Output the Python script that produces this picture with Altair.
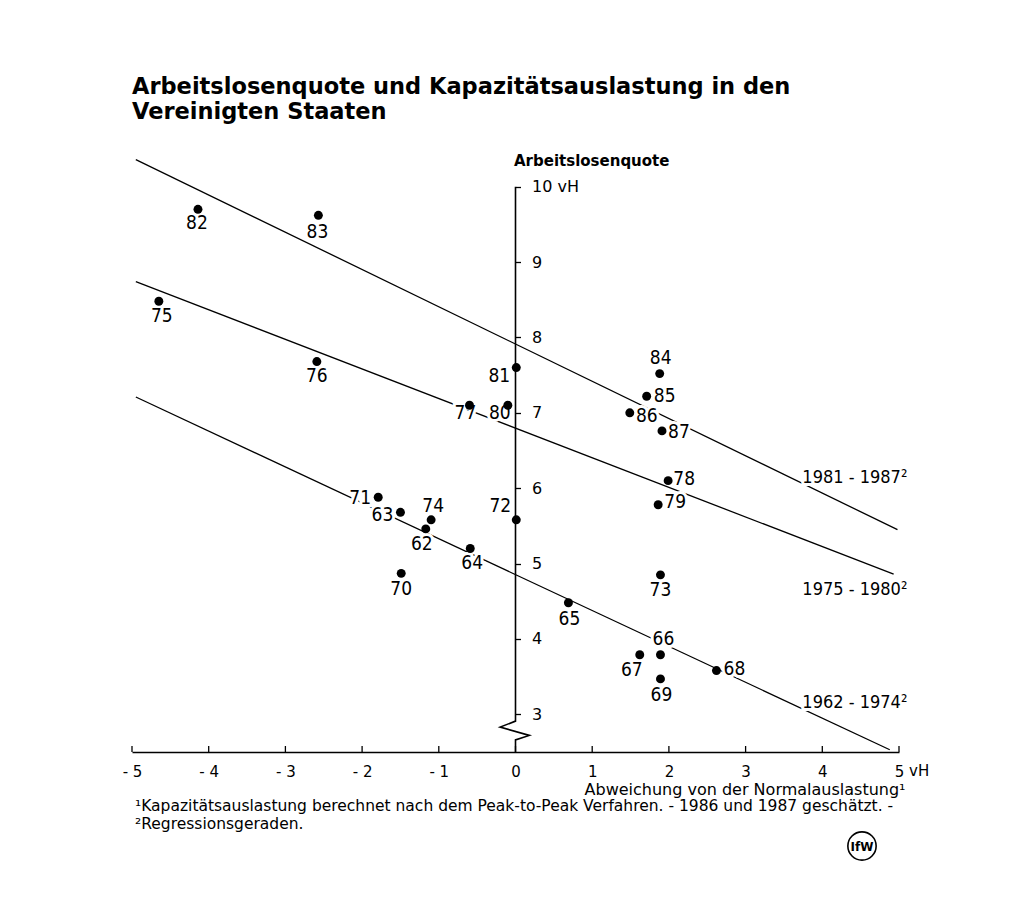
import altair as alt
import pandas as pd

# ---------------- data ----------------
years = ["62", "63", "64", "65", "66", "67", "68", "69", "70", "71", "72", "73", "74",
         "75", "76", "77", "78", "79", "80", "81", "82", "83", "84", "85", "86", "87"]
x_dev = [-1.17, -1.50, -0.59, 0.69, 1.89, 1.62, 2.62, 1.89, -1.49, -1.79, 0.01, 1.89, -1.10,
         -4.65, -2.59, -0.60, 1.99, 1.86, -0.10, 0.01, -4.14, -2.57, 1.88, 1.71, 1.49, 1.91]
y_rate = [5.46, 5.68, 5.20, 4.48, 3.79, 3.79, 3.58, 3.47, 4.87, 5.88, 5.58, 4.85, 5.58,
          8.48, 7.68, 7.10, 6.10, 5.78, 7.10, 7.60, 9.70, 9.62, 7.52, 7.22, 7.00, 6.76]

# label placement (pixel offset of the label centre from its dot)
label_dx = [-4, -18, 2, 1, 3, -8, 18, 1, 0, -18, -16, 0, 2,
            3, 0, -4, 16, 17, -8, -17, -1, -1, 1, 18, 17, 17]
label_dy = [15, 3, 15, 16, -16, 15, -2, 16, 16, 1, -14, 15, -14,
            15, 14, 8, -2, -3, 8, 8, 14, 17, -16, 0, 3, 1]

# regression lines (end points)
line_names = ["1981 - 1987", "1975 - 1980", "1962 - 1974"]
line_x_start = [-4.95, -4.95, -4.95]
line_y_start = [10.36, 8.74, 7.21]
line_x_end = [4.98, 4.93, 4.88]
line_y_end = [5.45, 4.86, 2.53]
line_labels = ["1981 - 1987²", "1975 - 1980²", "1962 - 1974²"]
line_label_x = [3.74, 3.74, 3.74]
line_label_y = [6.07, 4.58, 3.08]

x_ticks = [-5, -4, -3, -2, -1, 0, 1, 2, 3, 4, 5]
y_ticks = [3, 4, 5, 6, 7, 8, 9, 10]

title_lines = ["Arbeitslosenquote und Kapazitätsauslastung in den", "Vereinigten Staaten"]
y_title = "Arbeitslosenquote"
x_title = "Abweichung von der Normalauslastung¹"
footnote_1 = "¹Kapazitätsauslastung berechnet nach dem Peak-to-Peak Verfahren. -  1986 und 1987 geschätzt. -"
footnote_2 = "²Regressionsgeraden."

# y axis break (zig-zag) in data units
brk_x = [0, 0, -0.20, 0.18, 0, 0]
brk_y = [10, 2.91, 2.83, 2.72, 2.66, 2.5]

# ---------------- layout ----------------
W, H = 767, 603
X_DOM = [-5, 5]
Y_DOM = [2.5, 10.5]
px_x = W / (X_DOM[1] - X_DOM[0])
px_y = H / (Y_DOM[1] - Y_DOM[0])

NUM_FONT = "Liberation Sans Narrow, DejaVu Sans Condensed, sans-serif"
TXT_FONT = "DejaVu Sans"

pts = pd.DataFrame({"year": years, "x": x_dev, "y": y_rate})
labs = pd.DataFrame({
    "year": years,
    "x": [x + dx / px_x for x, dx in zip(x_dev, label_dx)],
    "y": [y - dy / px_y for y, dy in zip(y_rate, label_dy)],
})

lines_rows = []
for n, xs_, ys_, xe, ye in zip(line_names, line_x_start, line_y_start, line_x_end, line_y_end):
    lines_rows.append({"series": n, "x": xs_, "y": ys_, "o": 0})
    lines_rows.append({"series": n, "x": xe, "y": ye, "o": 1})
lines_df = pd.DataFrame(lines_rows)
line_lab_df = pd.DataFrame({"t": line_labels, "x": line_label_x, "y": line_label_y})
brk_df = pd.DataFrame({"x": brk_x, "y": brk_y, "o": list(range(len(brk_x)))})
xt_df = pd.DataFrame({"x": x_ticks, "y": [2.5] * len(x_ticks), "y2": [2.5 + 6 / px_y] * len(x_ticks)})

x_axis = alt.Axis(
    values=x_ticks, ticks=False, grid=False, domain=True, domainColor="black", domainWidth=1.5,
    labelExpr="datum.value < 0 ? '- ' + abs(datum.value) : datum.label",
    labelFont=TXT_FONT, labelFontSize=15, labelColor="black", labelPadding=12, labelFlush=False,
    title=x_title, titleFont=TXT_FONT, titleFontSize=16, titleFontWeight="normal", titleColor="black",
    titleX=773, titleY=42, titleAlign="right", titleBaseline="alphabetic", titleAnchor="end",
)
y_axis = alt.Axis(
    orient="right", offset=-W / 2, domain=False, grid=False, values=y_ticks,
    tickSize=5, tickColor="black", tickWidth=1.3,
    labelFont=TXT_FONT, labelFontSize=16, labelColor="black", labelPadding=11,
    labelExpr="datum.value == 10 ? '10 vH' : datum.label",
    title=y_title, titleAngle=0, titleX=-2, titleY=16, titleAlign="left", titleBaseline="alphabetic",
    titleFont=TXT_FONT, titleFontSize=15, titleFontWeight="bold", titleColor="black",
)
xs = alt.Scale(domain=X_DOM, nice=False, zero=False)
ys = alt.Scale(domain=Y_DOM, nice=False, zero=False)


def X():
    return alt.X("x:Q", scale=xs, axis=x_axis)


def Y():
    return alt.Y("y:Q", scale=ys, axis=y_axis)


lines = alt.Chart(lines_df).mark_line(color="black", strokeWidth=1.3).encode(
    x=X(), y=Y(), detail="series:N", order="o:Q")

yaxis_line = alt.Chart(brk_df).mark_line(color="black", strokeWidth=1.6).encode(
    x=X(), y=Y(), order="o:Q")

xticks = alt.Chart(xt_df).mark_rule(color="black", strokeWidth=1.3).encode(
    x=X(), y=Y(), y2="y2:Q")

vh = alt.Chart(pd.DataFrame({"x": [5], "y": [2.5], "t": ["vH"]})).mark_text(
    font=TXT_FONT, fontSize=15, align="left", baseline="top", dx=10, dy=12, color="black").encode(
    x=X(), y=Y(), text="t:N")

halo = alt.Chart(labs).mark_text(
    font=NUM_FONT, fontSize=19, stroke="white", strokeWidth=6, color="white", baseline="middle").encode(
    x=X(), y=Y(), text="year:N")
line_halo = alt.Chart(line_lab_df).mark_text(
    font=NUM_FONT, fontSize=18, stroke="white", strokeWidth=6, color="white",
    align="left", baseline="alphabetic").encode(x=X(), y=Y(), text="t:N")

dots = alt.Chart(pts).mark_circle(size=80, color="black", opacity=1).encode(x=X(), y=Y())
texts = alt.Chart(labs).mark_text(
    font=NUM_FONT, fontSize=19, color="black", baseline="middle").encode(
    x=X(), y=Y(), text="year:N")
line_texts = alt.Chart(line_lab_df).mark_text(
    font=NUM_FONT, fontSize=18, color="black", align="left", baseline="alphabetic").encode(
    x=X(), y=Y(), text="t:N")

foot1 = alt.Chart(pd.DataFrame({"t": [footnote_1]})).mark_text(
    font=TXT_FONT, fontSize=15.5, color="black", align="left", baseline="alphabetic").encode(
    x=alt.value(3), y=alt.value(662), text="t:N")
foot2 = alt.Chart(pd.DataFrame({"t": [footnote_2]})).mark_text(
    font=TXT_FONT, fontSize=15.5, color="black", align="left", baseline="alphabetic").encode(
    x=alt.value(3), y=alt.value(680), text="t:N")

logo_ring = alt.Chart(pd.DataFrame({"t": ["IfW"]})).mark_point(
    shape="circle", size=800, filled=False, color="black", strokeWidth=1.6, opacity=1).encode(
    x=alt.value(730), y=alt.value(697))
logo_text = alt.Chart(pd.DataFrame({"t": ["IfW"]})).mark_text(
    font=TXT_FONT, fontSize=12, fontWeight="bold", color="black").encode(
    x=alt.value(730), y=alt.value(698), text="t:N")

chart = alt.layer(
    lines, yaxis_line, xticks, vh, halo, line_halo, dots, texts, line_texts,
    foot1, foot2, logo_ring, logo_text
).properties(
    width=W, height=H,
    padding={"left": 124, "top": 141, "right": 100, "bottom": 140},
    autosize=alt.AutoSizeParams(type="none"),
    title=alt.TitleParams(
        text=title_lines, anchor="start", frame="group", font=TXT_FONT, fontSize=22.5,
        fontWeight="bold", color="black", baseline="bottom", offset=3, lineHeight=25),
).configure_view(stroke="transparent")

chart.save("out.html", embed_options={"renderer": "svg", "actions": False})
